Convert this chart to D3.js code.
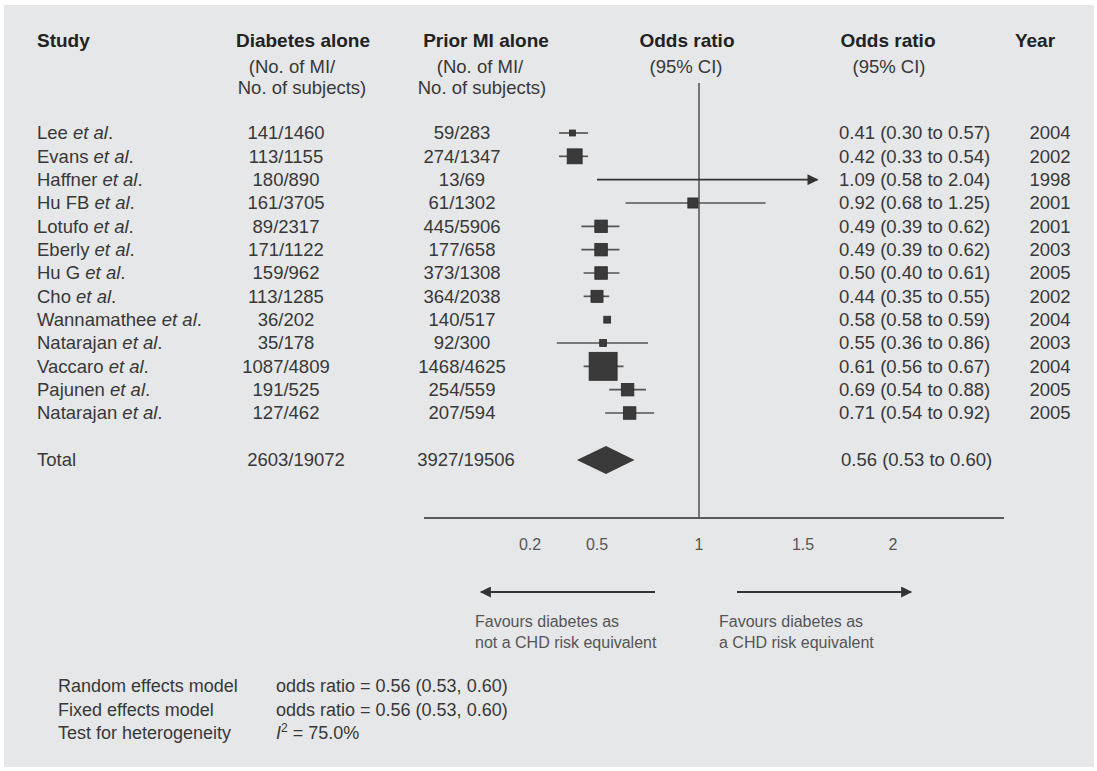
<!DOCTYPE html>
<html>
<head>
<meta charset="utf-8">
<script src="https://cdn.jsdelivr.net/npm/d3@7"></script>
<style>
  html, body { margin: 0; padding: 0; background: #fff; }
  svg { display: block; font-family: Arial, "Liberation Sans", Helvetica, sans-serif; }
</style>
</head>
<body>
<div id="chart"></div>
<script>
// study rows
const studies = ['Lee', 'Evans', 'Haffner', 'Hu FB', 'Lotufo', 'Eberly', 'Hu G', 'Cho',
  'Wannamathee', 'Natarajan', 'Vaccaro', 'Pajunen', 'Natarajan'];
const diabetesAlone = ['141/1460', '113/1155', '180/890', '161/3705', '89/2317', '171/1122', '159/962',
  '113/1285', '36/202', '35/178', '1087/4809', '191/525', '127/462'];
const priorMIAlone = ['59/283', '274/1347', '13/69', '61/1302', '445/5906', '177/658', '373/1308',
  '364/2038', '140/517', '92/300', '1468/4625', '254/559', '207/594'];
const orLabels = ['0.41 (0.30 to 0.57)', '0.42 (0.33 to 0.54)', '1.09 (0.58 to 2.04)', '0.92 (0.68 to 1.25)',
  '0.49 (0.39 to 0.62)', '0.49 (0.39 to 0.62)', '0.50 (0.40 to 0.61)', '0.44 (0.35 to 0.55)',
  '0.58 (0.58 to 0.59)', '0.55 (0.36 to 0.86)', '0.61 (0.56 to 0.67)', '0.69 (0.54 to 0.88)',
  '0.71 (0.54 to 0.92)'];
const years = ['2004', '2002', '1998', '2001', '2001', '2003', '2005', '2002', '2004', '2003', '2004', '2005', '2005'];

// where the marks sit on the drawn axis (the original is not drawn to scale, so read off the marks)
const plotOR = [0.39, 0.40, null, 0.97, 0.52, 0.52, 0.52, 0.50, 0.55, 0.53, 0.53, 0.65, 0.66];
const plotLo = [0.33, 0.33, 0.50, 0.64, 0.43, 0.43, 0.44, 0.44, 0.548, 0.32, 0.44, 0.56, 0.54];
const plotHi = [0.46, 0.46, 2.04, 1.32, 0.61, 0.61, 0.61, 0.56, 0.554, 0.75, 0.63, 0.74, 0.78];
const weights = [0.9, 5.7, 0, 2.6, 4.0, 4.0, 4.0, 3.7, 1.2, 1.2, 20, 4.0, 4.0];

// pooled row
const totalCounts = ['2603/19072', '3927/19506'];
const totalLabel = '0.56 (0.53 to 0.60)';
const totalPlot = [0.41, 0.544, 0.684]; // lo, mid, hi as drawn

const axisTicks = [0.2, 0.5, 1, 1.5, 2];
const axisTickLabels = ['0.2', '0.5', '1', '1.5', '2'];
const clipMax = 1.58;

const modelLabels = ['Random effects model', 'Fixed effects model', 'Test for heterogeneity'];
const modelValues = ['odds ratio = 0.56 (0.53, 0.60)', 'odds ratio = 0.56 (0.53, 0.60)', null];
const heterogeneity = '75.0%';

const W = 1097, H = 771;
const svg = d3.select('#chart').append('svg')
  .attr('width', W).attr('height', H);

svg.append('rect')
  .attr('x', 4).attr('y', 5).attr('width', W - 7).attr('height', H - 9)
  .attr('fill', '#e6e7e9');

const defs = svg.append('defs');
defs.append('marker')
  .attr('id', 'arrow')
  .attr('viewBox', '0 -5 10 10')
  .attr('refX', 9).attr('refY', 0)
  .attr('markerUnits', 'userSpaceOnUse')
  .attr('markerWidth', 13).attr('markerHeight', 11)
  .attr('orient', 'auto-start-reverse')
  .append('path')
  .attr('d', 'M0,-5L10,0L0,5Z')
  .attr('fill', '#333');

// x is piecewise linear: the printed tick spacing is uneven
const x = d3.scaleLinear()
  .domain(axisTicks)
  .range([530, 597, 699, 803, 893]);

const y = d3.scalePoint()
  .domain(d3.range(studies.length))
  .range([133, 413]);
const totalY = 460;

const size = d3.scaleSqrt().domain([0, d3.max(weights)]).range([0, 28]);

const textCol = '#383838';

// header
const header = svg.append('g').attr('fill', '#222').attr('font-weight', 'bold').attr('font-size', 19);
header.append('text').attr('x', 37).attr('y', 47).text('Study');
header.append('text').attr('x', 303).attr('y', 47).attr('text-anchor', 'middle').text('Diabetes alone');
header.append('text').attr('x', 486).attr('y', 47).attr('text-anchor', 'middle').text('Prior MI alone');
header.append('text').attr('x', 687).attr('y', 47).attr('text-anchor', 'middle').text('Odds ratio');
header.append('text').attr('x', 888).attr('y', 47).attr('text-anchor', 'middle').text('Odds ratio');
header.append('text').attr('x', 1035).attr('y', 47).attr('text-anchor', 'middle').text('Year');

const sub = svg.append('g').attr('fill', textCol).attr('font-size', 18.5).attr('text-anchor', 'middle');
sub.append('text').attr('x', 292).attr('y', 73).text('(No. of MI/');
sub.append('text').attr('x', 302).attr('y', 94).text('No. of subjects)');
sub.append('text').attr('x', 480).attr('y', 73).text('(No. of MI/');
sub.append('text').attr('x', 482).attr('y', 94).text('No. of subjects)');
sub.append('text').attr('x', 686).attr('y', 73).text('(95% CI)');
sub.append('text').attr('x', 889).attr('y', 73).text('(95% CI)');

// table rows
const rows = svg.append('g').attr('fill', textCol).attr('font-size', 18.5);
const idx = d3.range(studies.length);

const studyText = rows.selectAll('text.study').data(idx).enter().append('text')
  .attr('class', 'study')
  .attr('x', 37).attr('y', i => y(i)).attr('dy', '0.35em')
  .text(i => studies[i] + ' ');
studyText.append('tspan').attr('font-style', 'italic').text('et al');
studyText.append('tspan').text('.');

rows.selectAll('text.dia').data(idx).enter().append('text')
  .attr('x', 286).attr('y', i => y(i)).attr('dy', '0.35em').attr('text-anchor', 'middle')
  .text(i => diabetesAlone[i]);
rows.selectAll('text.pri').data(idx).enter().append('text')
  .attr('x', 462).attr('y', i => y(i)).attr('dy', '0.35em').attr('text-anchor', 'middle')
  .text(i => priorMIAlone[i]);
rows.selectAll('text.or').data(idx).enter().append('text')
  .attr('x', 839).attr('y', i => y(i)).attr('dy', '0.35em')
  .text(i => orLabels[i]);
rows.selectAll('text.yr').data(idx).enter().append('text')
  .attr('x', 1050).attr('y', i => y(i)).attr('dy', '0.35em').attr('text-anchor', 'middle')
  .text(i => years[i]);

rows.append('text').attr('x', 37).attr('y', totalY).attr('dy', '0.35em').text('Total');
rows.append('text').attr('x', 296).attr('y', totalY).attr('dy', '0.35em').attr('text-anchor', 'middle').text(totalCounts[0]);
rows.append('text').attr('x', 466).attr('y', totalY).attr('dy', '0.35em').attr('text-anchor', 'middle').text(totalCounts[1]);
rows.append('text').attr('x', 841).attr('y', totalY).attr('dy', '0.35em').text(totalLabel);

// reference line at OR = 1 and the axis
const plot = svg.append('g');
plot.append('line')
  .attr('x1', x(1)).attr('x2', x(1)).attr('y1', 83).attr('y2', 518)
  .attr('stroke', '#5a5a5a').attr('stroke-width', 1.6);
plot.append('line')
  .attr('x1', 424).attr('x2', 1004).attr('y1', 518).attr('y2', 518)
  .attr('stroke', '#5a5a5a').attr('stroke-width', 1.8);

plot.selectAll('text.tick').data(axisTicks).enter().append('text')
  .attr('x', d => x(d)).attr('y', 550).attr('text-anchor', 'middle')
  .attr('font-size', 16).attr('fill', '#555')
  .text((d, i) => axisTickLabels[i]);

// confidence intervals
plot.selectAll('line.ci').data(idx).enter().append('line')
  .attr('x1', i => x(plotLo[i]))
  .attr('x2', i => x(Math.min(plotHi[i], clipMax)))
  .attr('y1', i => y(i)).attr('y2', i => y(i))
  .attr('stroke', i => plotHi[i] > clipMax ? '#333' : '#555')
  .attr('stroke-width', 1.7)
  .attr('marker-end', i => plotHi[i] > clipMax ? 'url(#arrow)' : null);

// weighted boxes
plot.selectAll('rect.box').data(idx.filter(i => plotOR[i] != null)).enter().append('rect')
  .attr('x', i => x(plotOR[i]) - size(weights[i]) / 2)
  .attr('y', i => y(i) - size(weights[i]) / 2)
  .attr('width', i => size(weights[i]))
  .attr('height', i => size(weights[i]))
  .attr('fill', '#3a3a3a').attr('stroke', '#2a2a2a').attr('stroke-width', 0.8);

// pooled diamond
plot.append('path')
  .attr('d', `M${x(totalPlot[0])},${totalY}L${x(totalPlot[1])},${totalY - 14}L${x(totalPlot[2])},${totalY}L${x(totalPlot[1])},${totalY + 14}Z`)
  .attr('fill', '#3a3a3a');

// direction arrows
const dirs = svg.append('g');
dirs.append('line').attr('x1', 655).attr('x2', 481).attr('y1', 592).attr('y2', 592)
  .attr('stroke', '#333').attr('stroke-width', 2).attr('marker-end', 'url(#arrow)');
dirs.append('line').attr('x1', 737).attr('x2', 911).attr('y1', 592).attr('y2', 592)
  .attr('stroke', '#333').attr('stroke-width', 2).attr('marker-end', 'url(#arrow)');

const fav = svg.append('g').attr('font-size', 16).attr('fill', '#555');
fav.append('text').attr('x', 475).attr('y', 627).text('Favours diabetes as');
fav.append('text').attr('x', 475).attr('y', 648).text('not a CHD risk equivalent');
fav.append('text').attr('x', 719).attr('y', 627).text('Favours diabetes as');
fav.append('text').attr('x', 719).attr('y', 648).text('a CHD risk equivalent');

// model summary
const foot = svg.append('g').attr('font-size', 18).attr('fill', textCol);
const footY = [692, 716, 739];
foot.selectAll('text.lab').data(modelLabels).enter().append('text')
  .attr('x', 58).attr('y', (d, i) => footY[i]).text(d => d);
foot.selectAll('text.val').data(modelValues.filter(d => d)).enter().append('text')
  .attr('x', 276).attr('y', (d, i) => footY[i]).text(d => d);
const het = foot.append('text').attr('x', 276).attr('y', footY[2]);
het.append('tspan').attr('font-style', 'italic').text('I');
het.append('tspan').attr('font-size', 12).attr('dy', -7).text('2');
het.append('tspan').attr('dy', 7).text(' = ' + heterogeneity);
</script>
</body>
</html>
